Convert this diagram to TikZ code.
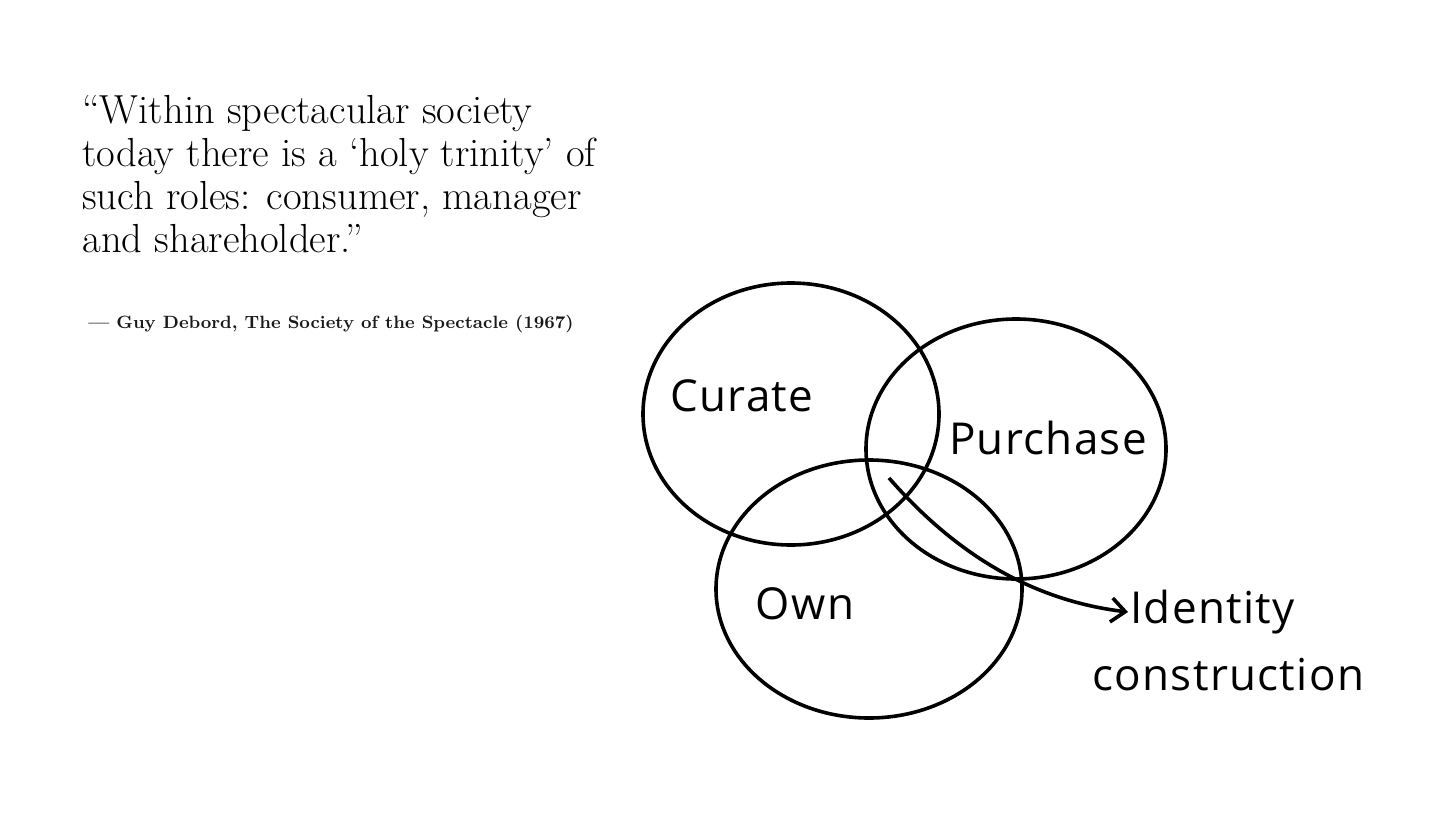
\documentclass[tikz,border=0pt]{standalone}
\usepackage{fontspec}
\usetikzlibrary{arrows.meta,shapes.geometric}
\newfontfamily\handfont{Open Sans}[LetterSpace=3]
\tikzset{
  venn/.style={draw, ellipse, line width=1.8pt, inner sep=0pt},
  hand/.style={font=\handfont\fontsize{22}{24}\selectfont, inner sep=1pt},
}
\begin{document}
\begin{tikzpicture}[x=0.5pt, y=-0.5pt]
\useasboundingbox (0,0) rectangle (1456,819);
% quote and source
\node[anchor=north west, inner sep=0pt, align=left, font=\fontsize{20.3}{21.5}\selectfont] (quote) at (82,95)
  {``Within spectacular society\\today there is a `holy trinity' of\\such roles: consumer, manager\\and shareholder.''};
\node[anchor=base west, inner sep=0pt, text=black!90, font=\bfseries\fontsize{8.9}{11}\selectfont] (source) at (88,328)
  {--- Guy Debord, The Society of the Spectacle (1967)};
% the three sets
\node[venn, minimum width=148pt, minimum height=131pt] (curate) at (791,414) {};
\node[venn, minimum width=150pt, minimum height=130pt] (purchase) at (1016,449) {};
\node[venn, minimum width=153pt, minimum height=129pt] (own) at (869,589) {};
\node[hand] (curateL) at (742,396) {Curate};
\node[hand] (purchaseL) at (1048,438) {Purchase};
\node[hand] (ownL) at (805,604) {Own};
\node[hand, anchor=west] (identL) at (1128,612) {Identity};
\node[hand, anchor=west] (constrL) at (1090,675) {construction};
% arrow out of the middle
\coordinate (core) at (889,478);
\draw[line width=1.8pt, -{Straight Barb[length=7pt,width=12pt]}] (core) .. controls (965,565) and (1045,602) .. (identL.west);
\end{tikzpicture}
\end{document}
